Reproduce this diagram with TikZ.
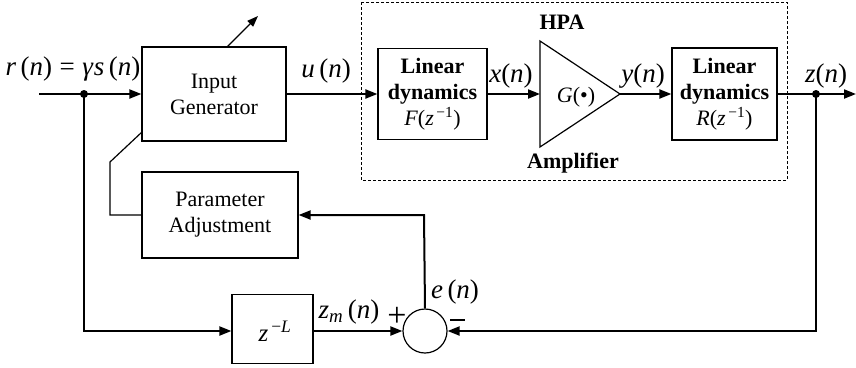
\documentclass[tikz,border=0pt]{standalone}
\usepackage{fontspec}
\setmainfont{Liberation Serif}
\usetikzlibrary{arrows.meta}
\begin{document}
\begin{tikzpicture}[x=1pt,y=-1pt,
  every node/.style={font=\fontsize{22}{26}\selectfont, inner sep=0pt},
  blk/.style={draw, line width=1.2pt, rectangle, align=center},
  sig/.style={line width=2pt, -{Triangle[length=12pt,width=9pt]}},
  thin/.style={line width=1.2pt},
  dot/.style={circle, fill, minimum size=8pt, inner sep=0pt},
  lbl/.style={font=\fontsize{27}{30}\selectfont}]
\useasboundingbox (0,0) rectangle (856,367);
% HPA dashed frame
\draw[line width=0.9pt, dash pattern=on 3pt off 2pt] (361,2) rectangle (787,180);
\node[font=\fontsize{22}{26}\selectfont\bfseries] (hpa) at (562,22) {HPA};
\node[font=\fontsize{22}{26}\selectfont\bfseries] (ampl) at (573,163) {Amplifier};
% blocks
\node[blk, minimum width=144pt, minimum height=94pt] (ig) at (214,94) {Input\\Generator};
\node[blk, minimum width=156pt, minimum height=86pt] (pa) at (220,215) {Parameter\\Adjustment};
\node[blk, minimum width=109pt, minimum height=91pt] (ld1) at (432.5,94)
  {\textbf{Linear}\\\textbf{dynamics}\\\textit{F}(\textit{z}\textsuperscript{\,−1})};
\node[blk, minimum width=105pt, minimum height=92pt] (ld2) at (724.5,94)
  {\textbf{Linear}\\\textbf{dynamics}\\\textit{R}(\textit{z}\textsuperscript{\,−1})};
\node[blk, minimum width=81pt, minimum height=69pt] (zl) at (272.5,329) {};
\node[font=\fontsize{25}{28}\selectfont] (zltxt) at (275,331) {\textit{z}\textsuperscript{\,−\textit{L}}};
\node[draw, circle, line width=1.2pt, minimum size=44pt] (sum) at (425,331) {};
% amplifier triangle
\draw[thin] (540,41) -- (620,94) -- (540,147) -- cycle;
\coordinate (ampin) at (540,94);
\coordinate (ampout) at (620,94);
\node (g) at (576,97) {\textit{G}(•)};
% junctions
\coordinate (in) at (39,94);
\node[dot] (j1) at (84,94) {};
\node[dot] (j2) at (816,94) {};
\coordinate (out) at (856,94);
% signal lines
\draw[sig] (in) -- (ig.west);
\draw[sig] (ig.east) -- (ld1.west);
\draw[sig] (ld1.east) -- (ampin);
\draw[sig] (ampout) -- (ld2.west);
\draw[sig] (ld2.east) -- (out);
\draw[sig] (j2.center) -- (816,331) -- (sum.east);
\draw[sig] (j1.center) -- (84,331) -- (zl.west |- 0,331);
\draw[sig] (zl.east |- 0,331) -- (sum.west);
\draw[sig] (sum.north) -- (424,215) -- (pa.east);
% adjustment links
\draw[thin] (pa.west) -- (110,215) -- (110,162) -- (142,132);
\draw[thin, -{Triangle[length=11pt,width=8pt]}] (227,47) -- (258,16);
% labels
\node[lbl] (lr) at (73,69) {\textit{r}\,(\textit{n})\;=\;\textit{γ\kern1pt s}\,(\textit{n})};
\node[lbl] (lu) at (326,71) {\textit{u}\,(\textit{n})};
\node[lbl] (lx) at (511,76) {\textit{x}(\textit{n})};
\node[lbl] (ly) at (643,76) {\textit{y}(\textit{n})};
\node[lbl] (lz) at (826,76) {\textit{z}(\textit{n})};
\node[lbl] (lzm) at (349,312) {\textit{z}\textsubscript{\textit{m}}\,(\textit{n})};
\node[lbl] (le) at (455,292) {\textit{e}\,(\textit{n})};
\node[font=\fontsize{34}{36}\selectfont] (lplus) at (397,317) {+};
\draw[line width=1.8pt] (450,320) -- (465,320);
\end{tikzpicture}
\end{document}
